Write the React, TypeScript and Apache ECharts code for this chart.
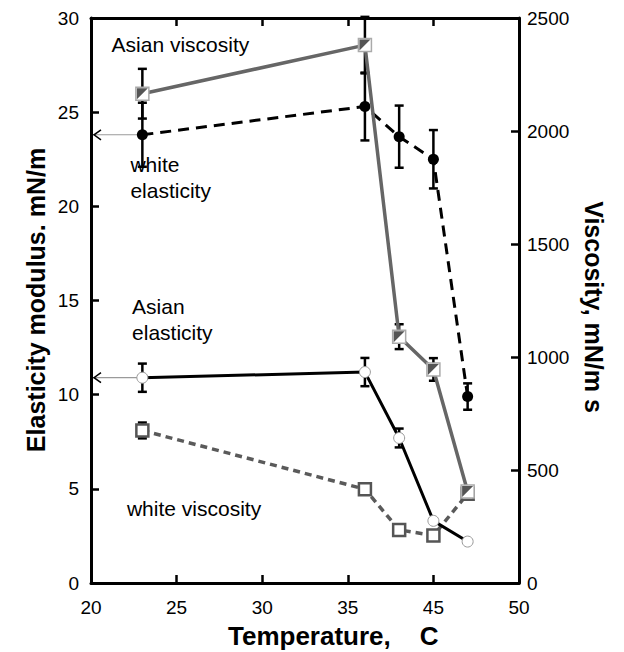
import React, { useEffect, useRef } from "react";
import * as echarts from "echarts";

// Temperatures as positions on the drawn (equally spaced) axis
const temperaturePos = [23, 36, 38, 40, 42];
// Axis tick values and the labels printed on them
const xTickValues = [20, 25, 30, 35, 40, 45];
const xTickLabels = ["20", "25", "30", "35", "45", "50"];

// Left axis: elasticity modulus, mN/m
const whiteElasticity = [23.8, 25.3, 23.7, 22.5, 9.9];
const whiteElasticityErr = [1.7, 1.8, 1.65, 1.55, 0.7];
const asianElasticity = [10.9, 11.2, 7.7, 3.3, 2.2];
const asianElasticityErr = [0.75, 0.75, 0.5, 0, 0];

// Right axis: viscosity, mN/m s
const asianViscosity = [2165, 2380, 1090, 945, 405];
const asianViscosityErr = [110, 125, 55, 50, 0];
const whiteViscosity = [675, 415, 235, 210, 395];
const whiteViscosityErr = [35, 0, 0, 0, 0];

const FONT = "'Liberation Sans', Arial, Helvetica, sans-serif";

function pairs(xs: number[], ys: number[]) {
  return xs.map((x, i) => [x, ys[i]]);
}
function triples(xs: number[], ys: number[], es: number[]) {
  return xs.map((x, i) => [x, ys[i], es[i]]);
}

function errorRender(params: any, api: any) {
  const x = api.value(0);
  const y = api.value(1);
  const e = api.value(2);
  if (!e) return { type: "group", children: [] };
  const top = api.coord([x, y + e]);
  const bot = api.coord([x, y - e]);
  const hw = 4.5;
  const style = { stroke: "#000", lineWidth: 2.5 };
  return {
    type: "group",
    children: [
      { type: "line", shape: { x1: top[0], y1: top[1], x2: bot[0], y2: bot[1] }, style },
      { type: "line", shape: { x1: top[0] - hw, y1: top[1], x2: top[0] + hw, y2: top[1] }, style },
      { type: "line", shape: { x1: bot[0] - hw, y1: bot[1], x2: bot[0] + hw, y2: bot[1] }, style },
    ],
  };
}

function arrowRender(params: any, api: any) {
  const x = api.value(0);
  const y = api.value(1);
  const p = api.coord([x, y]);
  const a = api.coord([20, y]);
  return {
    type: "group",
    children: [
      { type: "line", shape: { x1: a[0] + 2, y1: a[1], x2: p[0] - 5, y2: p[1] }, style: { stroke: "#9a9a9a", lineWidth: 1.2 } },
      {
        type: "polyline",
        shape: { points: [[a[0] + 10, a[1] - 5], [a[0] + 3, a[1]], [a[0] + 10, a[1] + 5]] },
        style: { stroke: "#000", lineWidth: 1.5, fill: "none" },
      },
    ],
  };
}

export default function App() {
  const ref = useRef<HTMLDivElement>(null);
  useEffect(() => {
    if (!ref.current) return;
    const chart = echarts.init(ref.current, undefined, { renderer: "svg" });
    const axisLine = { show: true, onZero: false, lineStyle: { color: "#000", width: 3 } };
    const axisTick = { show: true, inside: true, length: 8, lineStyle: { color: "#000", width: 2.5 } };
    const labelStyle = { color: "#000", fontSize: 19, fontFamily: FONT };
    const xLabel = (v: number) => {
      const i = xTickValues.indexOf(v);
      return i >= 0 ? xTickLabels[i] : "";
    };
    const plain = (v: number) => String(v);
    const option: any = {
      animation: false,
      backgroundColor: "#fff",
      grid: { left: 91, right: 105, top: 18, bottom: 69, containLabel: false },
      xAxis: [
        {
          type: "value", min: 20, max: 45, interval: 5, position: "bottom",
          axisLine, axisTick, splitLine: { show: false },
          axisLabel: { ...labelStyle, margin: 15, formatter: xLabel },
        },
        {
          type: "value", min: 20, max: 45, interval: 5, position: "top",
          axisLine, axisTick, splitLine: { show: false }, axisLabel: { show: false },
        },
      ],
      yAxis: [
        {
          type: "value", min: 0, max: 30, interval: 5, position: "left",
          axisLine, axisTick, splitLine: { show: false },
          axisLabel: { ...labelStyle, margin: 12, formatter: plain },
        },
        {
          type: "value", min: 0, max: 2500, interval: 500, position: "right",
          axisLine, axisTick, splitLine: { show: false },
          axisLabel: { ...labelStyle, margin: 8, formatter: plain },
        },
      ],
      graphic: [
        {
          type: "text", left: 228, top: 623,
          style: { text: "Temperature,    C", fontSize: 26, fontWeight: "bold", fontFamily: FONT, fill: "#000" },
        },
        {
          type: "text", x: 36, y: 300, rotation: Math.PI / 2,
          style: { text: "Elasticity modulus. mN/m", fontSize: 25, fontWeight: "bold", fontFamily: FONT, fill: "#000", align: "center", verticalAlign: "middle" },
        },
        {
          type: "text", x: 594, y: 307, rotation: -Math.PI / 2,
          style: { text: "Viscosity, mN/m s", fontSize: 25, fontWeight: "bold", fontFamily: FONT, fill: "#000", align: "center", verticalAlign: "middle" },
        },
      ],
      series: [
        // error bars
        { type: "custom", name: "we-err", xAxisIndex: 0, yAxisIndex: 0, renderItem: errorRender, data: triples(temperaturePos, whiteElasticity, whiteElasticityErr), z: 1, clip: false, silent: true },
        { type: "custom", name: "ae-err", xAxisIndex: 0, yAxisIndex: 0, renderItem: errorRender, data: triples(temperaturePos, asianElasticity, asianElasticityErr), z: 1, clip: false, silent: true },
        { type: "custom", name: "av-err", xAxisIndex: 0, yAxisIndex: 1, renderItem: errorRender, data: triples(temperaturePos, asianViscosity, asianViscosityErr), z: 1, clip: false, silent: true },
        { type: "custom", name: "wv-err", xAxisIndex: 0, yAxisIndex: 1, renderItem: errorRender, data: triples(temperaturePos, whiteViscosity, whiteViscosityErr), z: 1, clip: false, silent: true },
        // arrows to the left axis
        { type: "custom", name: "arrows", xAxisIndex: 0, yAxisIndex: 0, renderItem: arrowRender, data: [[temperaturePos[0], whiteElasticity[0]], [temperaturePos[0], asianElasticity[0]]], z: 1, silent: true },
        // white viscosity
        {
          type: "line", name: "white viscosity", xAxisIndex: 0, yAxisIndex: 1, data: pairs(temperaturePos, whiteViscosity),
          lineStyle: { color: "#5a5a5a", width: 3.5, type: [7, 5] },
          symbol: "rect", symbolSize: 12,
          itemStyle: { color: "#fff", borderColor: "#555", borderWidth: 2.5 }, z: 2,
        },
        // Asian elasticity
        {
          type: "line", name: "Asian elasticity", xAxisIndex: 0, yAxisIndex: 0, data: pairs(temperaturePos, asianElasticity),
          lineStyle: { color: "#000", width: 3 },
          symbol: "circle", symbolSize: 11,
          itemStyle: { color: "#fff", borderColor: "#999", borderWidth: 1 }, z: 3,
        },
        // white elasticity
        {
          type: "line", name: "white elasticity", xAxisIndex: 0, yAxisIndex: 0, data: pairs(temperaturePos, whiteElasticity),
          lineStyle: { color: "#000", width: 3, type: [11, 7] },
          symbol: "circle", symbolSize: 11,
          itemStyle: { color: "#000", borderColor: "#000", borderWidth: 0 }, z: 3,
        },
        // Asian viscosity
        {
          type: "line", name: "Asian viscosity", xAxisIndex: 0, yAxisIndex: 1, data: pairs(temperaturePos, asianViscosity),
          lineStyle: { color: "#666", width: 3.5 },
          symbol: "rect", symbolSize: 13,
          itemStyle: { color: "#fff", borderColor: "#aaa", borderWidth: 1.5 }, z: 4,
        },
        {
          type: "scatter", name: "Asian viscosity half", xAxisIndex: 0, yAxisIndex: 1, data: pairs(temperaturePos, asianViscosity),
          symbol: "path://M0,0 L10,0 L0,10 Z", symbolSize: 11,
          itemStyle: { color: "#555", opacity: 1 }, z: 5, silent: true,
        },
        // text annotations
        {
          type: "scatter", name: "notes", xAxisIndex: 0, yAxisIndex: 0, symbolSize: 0, z: 6, silent: true,
          itemStyle: { opacity: 1 },
          label: { show: true, position: "right", distance: 0, formatter: "{b}", fontSize: 21, lineHeight: 26, color: "#000", fontFamily: FONT },
          data: [
            { name: "Asian viscosity", value: [21.2, 28.6] },
            { name: "white\nelasticity", value: [22.3, 21.55] },
            { name: "Asian\nelasticity", value: [22.4, 14.0] },
            { name: "white viscosity", value: [22.1, 3.98] },
          ],
        },
      ],
    };
    chart.setOption(option);
    return () => chart.dispose();
  }, []);
  return <div ref={ref} style={{ width: 624, height: 652, position: "absolute", left: 0, top: 0 }} />;
}
